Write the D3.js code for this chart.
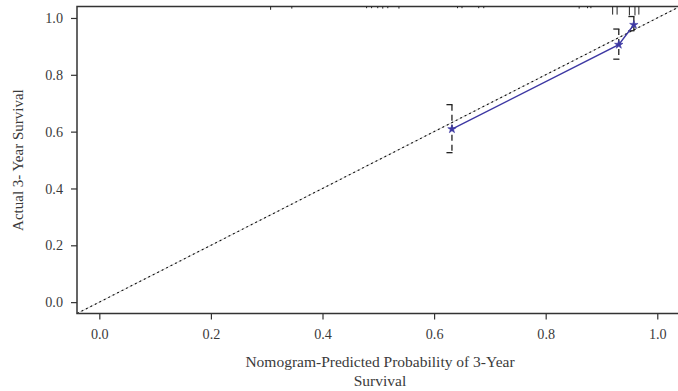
<!DOCTYPE html>
<html>
<head>
<meta charset="utf-8">
<script src="https://cdn.jsdelivr.net/npm/d3@7"></script>
<style>
  html, body { margin: 0; padding: 0; background: #fff; }
  svg { display: block; }
  .tick text { font-family: "Liberation Serif", "Times New Roman", serif; font-size: 14.2px; fill: #3a3a3a; }
</style>
</head>
<body>
<svg id="chart" width="678" height="391"></svg>
<script>
// Calibration groups: mean predicted vs observed 3-year survival
const predicted = [0.632, 0.931, 0.958];
const observed  = [0.609, 0.906, 0.976];
const lowerCI   = [0.526, 0.855, 0.955];
const upperCI   = [0.695, 0.961, 1.005];

// Distribution of predicted probabilities (spike heights relative to tallest)
const rugX   = [0.307, 0.345, 0.479, 0.488, 0.499, 0.508, 0.517, 0.537, 0.642, 0.650, 0.680, 0.689, 0.860, 0.875, 0.881, 0.920, 0.928, 0.950, 0.960, 0.967];
const rugLen = [0.40, 0.25, 0.20, 0.20, 0.20, 0.25, 0.20, 0.25, 0.20, 0.20, 0.20, 0.20, 0.25, 0.20, 0.20, 1.00, 1.00, 1.10, 1.10, 1.00];

const tickValues = [0, 0.2, 0.4, 0.6, 0.8, 1.0];
const xTitle = ["Nomogram-Predicted Probability of 3-Year", "Survival"];
const yTitle = "Actual 3- Year Survival";

const svg = d3.select("#chart");
const plotLeft = 77, plotRight = 679.6, plotTop = 6.6, plotBottom = 313.5;

const x = d3.scaleLinear().domain([-0.04, 1.04]).range([plotLeft, plotRight]);
const y = d3.scaleLinear().domain([-0.04, 1.04]).range([plotBottom, plotTop]);

const axisColor = "#333";
const blue = "#3d38a3";

// Axes
const gx = svg.append("g").attr("transform", `translate(0,${plotBottom})`)
  .call(d3.axisBottom(x).tickValues(tickValues).tickFormat(d3.format(".1f")).tickSize(6).tickSizeOuter(0).tickPadding(9));
gx.select(".domain").remove();
gx.selectAll(".tick line").attr("stroke", axisColor).attr("stroke-width", 1.2);

const gy = svg.append("g").attr("transform", `translate(${plotLeft},0)`)
  .call(d3.axisLeft(y).tickValues(tickValues).tickFormat(d3.format(".1f")).tickSize(6).tickSizeOuter(0).tickPadding(8));
gy.select(".domain").remove();
gy.selectAll(".tick line").attr("stroke", axisColor).attr("stroke-width", 1.2);

// Plot frame
svg.append("path")
  .attr("d", `M${plotRight},${plotTop}H${plotLeft}V${plotBottom}H${plotRight}`)
  .attr("fill", "none").attr("stroke", axisColor).attr("stroke-width", 1.5);

// Ideal calibration diagonal
const diag = [[-0.04, -0.04], [1.04, 1.04]];
const line = d3.line().x(d => x(d[0])).y(d => y(d[1]));
svg.append("path").attr("d", line(diag))
  .attr("fill", "none").attr("stroke", "#cfcfcf").attr("stroke-width", 1);
svg.append("path").attr("d", line(diag))
  .attr("fill", "none").attr("stroke", "#111").attr("stroke-width", 1.1).attr("stroke-dasharray", "2,3");

// Spike histogram of predictions along the top
const maxSpike = 8;
svg.append("g").selectAll("line").data(rugX).join("line")
  .attr("x1", d => x(d)).attr("x2", d => x(d))
  .attr("y1", plotTop).attr("y2", (d, i) => plotTop + maxSpike * rugLen[i])
  .attr("stroke", "#222").attr("stroke-width", 1);

// Error bars (dashed whisker with left caps)
const eb = svg.append("g");
predicted.forEach((p, i) => {
  const cx = x(p);
  eb.append("line")
    .attr("x1", cx).attr("x2", cx).attr("y1", y(upperCI[i])).attr("y2", y(lowerCI[i]))
    .attr("stroke", "#222").attr("stroke-width", 1.3).attr("stroke-dasharray", "6,4");
  [upperCI[i], lowerCI[i]].forEach(v => {
    eb.append("line")
      .attr("x1", cx - 5.5).attr("x2", cx + 0.6).attr("y1", y(v)).attr("y2", y(v))
      .attr("stroke", "#222").attr("stroke-width", 1.3);
  });
});

// Observed vs predicted line
const pts = predicted.map((p, i) => [p, observed[i]]);
svg.append("path").attr("d", line(pts))
  .attr("fill", "none").attr("stroke", blue).attr("stroke-width", 1.4);

svg.append("g").selectAll("path").data(pts).join("path")
  .attr("transform", d => `translate(${x(d[0])},${y(d[1])})`)
  .attr("d", d3.symbol(d3.symbolStar, 22))
  .attr("fill", blue).attr("stroke", blue).attr("stroke-width", 0.6);

// Axis titles
const titleFont = "'Liberation Serif', 'Times New Roman', serif";
const xt = svg.append("text")
  .attr("x", 380).attr("y", 367)
  .attr("text-anchor", "middle")
  .attr("font-family", titleFont).attr("font-size", 15.5).attr("fill", "#3a3a3a");
xTitle.forEach((t, i) => xt.append("tspan").attr("x", 380).attr("dy", i === 0 ? 0 : 19).text(t));

svg.append("text")
  .attr("transform", `translate(23,${(plotTop + plotBottom) / 2}) rotate(-90)`)
  .attr("text-anchor", "middle")
  .attr("font-family", titleFont).attr("font-size", 15).attr("fill", "#3a3a3a")
  .text(yTitle);
</script>
</body>
</html>
